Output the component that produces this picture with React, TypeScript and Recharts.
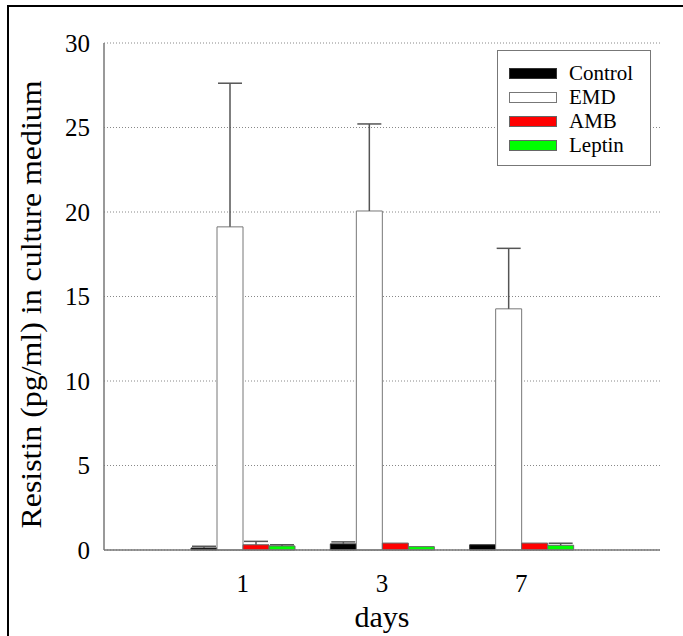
import React from 'react';
import { BarChart, Bar, XAxis, YAxis, CartesianGrid, ErrorBar, Legend } from 'recharts';

const days = ['1', '3', '7'];
const controlVals = [0.12, 0.36, 0.31];
const controlErr = [0.1, 0.12, null];
const emdVals = [19.12, 20.06, 14.27];
const emdErr = [8.5, 5.15, 3.58];
const ambVals = [0.31, 0.41, 0.41];
const ambErr = [0.2, null, null];
const leptinVals = [0.24, 0.2, 0.28];
const leptinErr = [0.07, null, 0.12];
const yTicks = [0, 5, 10, 15, 20, 25, 30];
const yLabel = 'Resistin (pg/ml) in culture medium';
const xLabel = 'days';

const series = [
  { key: 'Control', fill: '#000000', stroke: '#333333' },
  { key: 'EMD', fill: '#ffffff', stroke: '#777777' },
  { key: 'AMB', fill: '#ff0000', stroke: '#666666' },
  { key: 'Leptin', fill: '#00ff00', stroke: '#666666' },
];

const toErr = (e: number | null) => (e == null ? null : [0, e]);

const data = days.map((d, i) => ({
  day: d,
  Control: controlVals[i],
  ControlE: toErr(controlErr[i]),
  EMD: emdVals[i],
  EMDE: toErr(emdErr[i]),
  AMB: ambVals[i],
  AMBE: toErr(ambErr[i]),
  Leptin: leptinVals[i],
  LeptinE: toErr(leptinErr[i]),
}));

const FONT = "'Liberation Serif', 'Times New Roman', serif";

const LegendBox = () => (
  <div
    style={{
      width: 152,
      height: 114,
      border: '1px solid #777',
      background: '#fff',
      boxSizing: 'content-box',
      fontFamily: FONT,
      position: 'relative',
    }}
  >
    {series.map((s, i) => (
      <div
        key={s.key}
        style={{ position: 'absolute', left: 11, top: 10 + i * 24, height: 24, display: 'flex', alignItems: 'center' }}
      >
        <div style={{ width: 46, height: 9, background: s.fill, border: `1px solid ${s.stroke}` }} />
        <span style={{ marginLeft: 12, fontSize: 21, color: '#000', lineHeight: '24px', fontFamily: FONT }}>{s.key}</span>
      </div>
    ))}
  </div>
);

const YLabel = (props: any) => {
  const vb = props.viewBox || {};
  const cx = 41;
  const cy = (vb.y ?? 43) + (vb.height ?? 507) / 2 + 8;
  return (
    <text
      x={cx}
      y={cy}
      transform={`rotate(-90 ${cx} ${cy})`}
      textAnchor="middle"
      fontSize={29}
      fontFamily={FONT}
      fill="#000"
      textLength={448}
      lengthAdjust="spacingAndGlyphs"
    >
      {yLabel}
    </text>
  );
};

export default function App() {
  return (
    <div style={{ position: 'absolute', left: 0, top: 0, width: 683, height: 636, overflow: 'hidden', background: '#fff', fontFamily: FONT }}>
      <style>{`.recharts-errorBar line:last-child{display:none} .recharts-text{font-family:${FONT}}`}</style>
      <div
        style={{
          position: 'absolute',
          left: 7,
          top: 5,
          width: 800,
          height: 800,
          border: '2px solid #000',
        }}
      />
      <div style={{ position: 'absolute', left: 0, top: 0 }}>
        <BarChart
          width={683}
          height={636}
          data={data}
          margin={{ top: 43, right: 23, bottom: 6, left: 4 }}
          barGap={0}
          barSize={26}
          style={{ fontFamily: FONT }}
        >
          <CartesianGrid vertical={false} stroke="#888" strokeDasharray="1 2" />
          <XAxis
            dataKey="day"
            xAxisId={0}
            height={80}
            padding={{ left: 69, right: 69 }}
            tickLine={false}
            axisLine={{ stroke: '#777', strokeWidth: 1.5 }}
            tickMargin={18}
            tick={{ fontSize: 25, fill: '#000', fontFamily: FONT }}
            label={{ value: xLabel, position: 'insideBottom', offset: 3, fontSize: 30, fill: '#000', fontFamily: FONT }}
          />
          <XAxis
            dataKey="day"
            xAxisId="top"
            orientation="top"
            height={0}
            tick={false}
            tickLine={false}
            axisLine={{ stroke: '#777', strokeWidth: 1.5 }}
          />
          <YAxis
            yAxisId={0}
            width={100}
            domain={[0, 30]}
            ticks={yTicks}
            tickLine={false}
            axisLine={{ stroke: '#777', strokeWidth: 1.5 }}
            tickMargin={8}
            tick={{ fontSize: 25, fill: '#000', fontFamily: FONT }}
            label={<YLabel />}
          />
          <YAxis
            yAxisId="right"
            orientation="right"
            width={0}
            domain={[0, 30]}
            tick={false}
            tickLine={false}
            axisLine={{ stroke: '#666', strokeWidth: 2.5 }}
          />
          <Legend
            layout="vertical"
            align="center"
            verticalAlign="middle"
            content={() => <LegendBox />}
            wrapperStyle={{ left: 497, top: 50, width: 154, height: 116 }}
          />
          {series.map((s) => (
            <Bar
              key={s.key}
              dataKey={s.key}
              fill={s.fill}
              stroke={s.stroke}
              strokeWidth={1}
              isAnimationActive={false}
            >
              <ErrorBar dataKey={`${s.key}E`} width={12} stroke="#555" strokeWidth={1.5} direction="y" />
            </Bar>
          ))}
        </BarChart>
      </div>
    </div>
  );
}
